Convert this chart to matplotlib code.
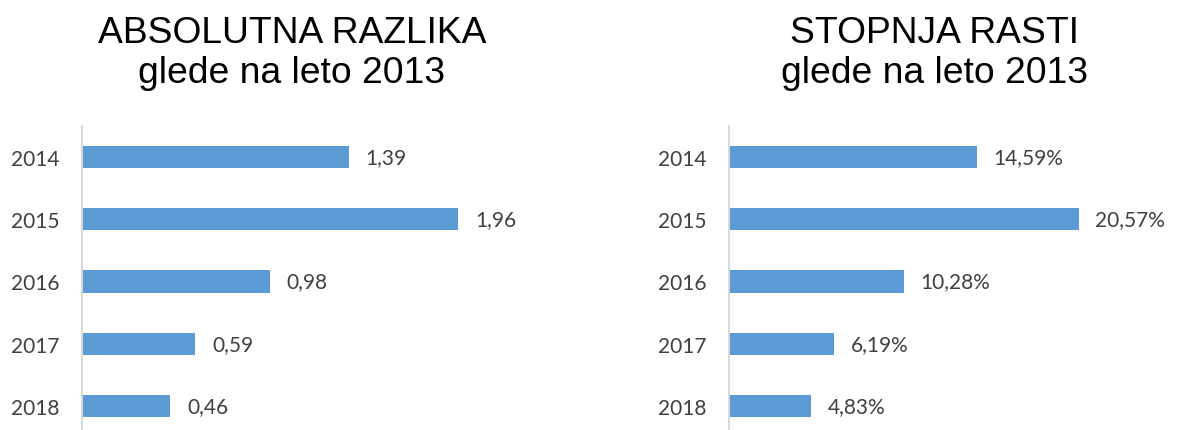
import matplotlib.pyplot as plt

# podatki
leta = ['2014', '2015', '2016', '2017', '2018']
absolutna = [1.39, 1.96, 0.98, 0.59, 0.46]
stopnja = [14.59, 20.57, 10.28, 6.19, 4.83]

W, H = 1201, 431
fig = plt.figure(figsize=(W / 100, H / 100), dpi=100)

barva = '#5B9BD5'
siva = '#D9D9D9'
tekst = '#404040'


def panel(left_px, xmax, width_px, values, labels):
    ax = fig.add_axes([left_px / W, -7 / H, width_px / W, 311 / H])
    ax.barh(leta, values, height=0.36, color=barva)
    ax.set_xlim(0, xmax)
    ax.set_ylim(4.5, -0.5)
    for s in ['top', 'right', 'bottom']:
        ax.spines[s].set_visible(False)
    ax.spines['left'].set_color(siva)
    ax.spines['left'].set_linewidth(1.5)
    ax.set_xticks([])
    ax.tick_params(axis='y', length=0, pad=16.5, labelsize=15, labelcolor=tekst)
    for t in ax.get_yticklabels():
        t.set_fontfamily('Lato')
    ax.bar_label(ax.containers[0], labels=labels, padding=12, fontsize=15,
                 color=tekst, fontfamily='Lato')
    return ax


panel(82, 2.2, 2.2 * 192, absolutna, [f'{v:.2f}'.replace('.', ',') for v in absolutna])
panel(729, 26, 26 * 17.0, stopnja, [f'{v:.2f}%'.replace('.', ',') for v in stopnja])

# naslovi
for x, t in [(292, 'ABSOLUTNA RAZLIKA\nglede na leto 2013'),
             (935, 'STOPNJA RASTI\nglede na leto 2013')]:
    fig.text(x / W, 1 - 83 / H, t, ha='center', va='baseline', fontsize=26.8,
             fontfamily='Liberation Sans', linespacing=1.2, color='black')

fig.savefig('out.png', dpi=100)
